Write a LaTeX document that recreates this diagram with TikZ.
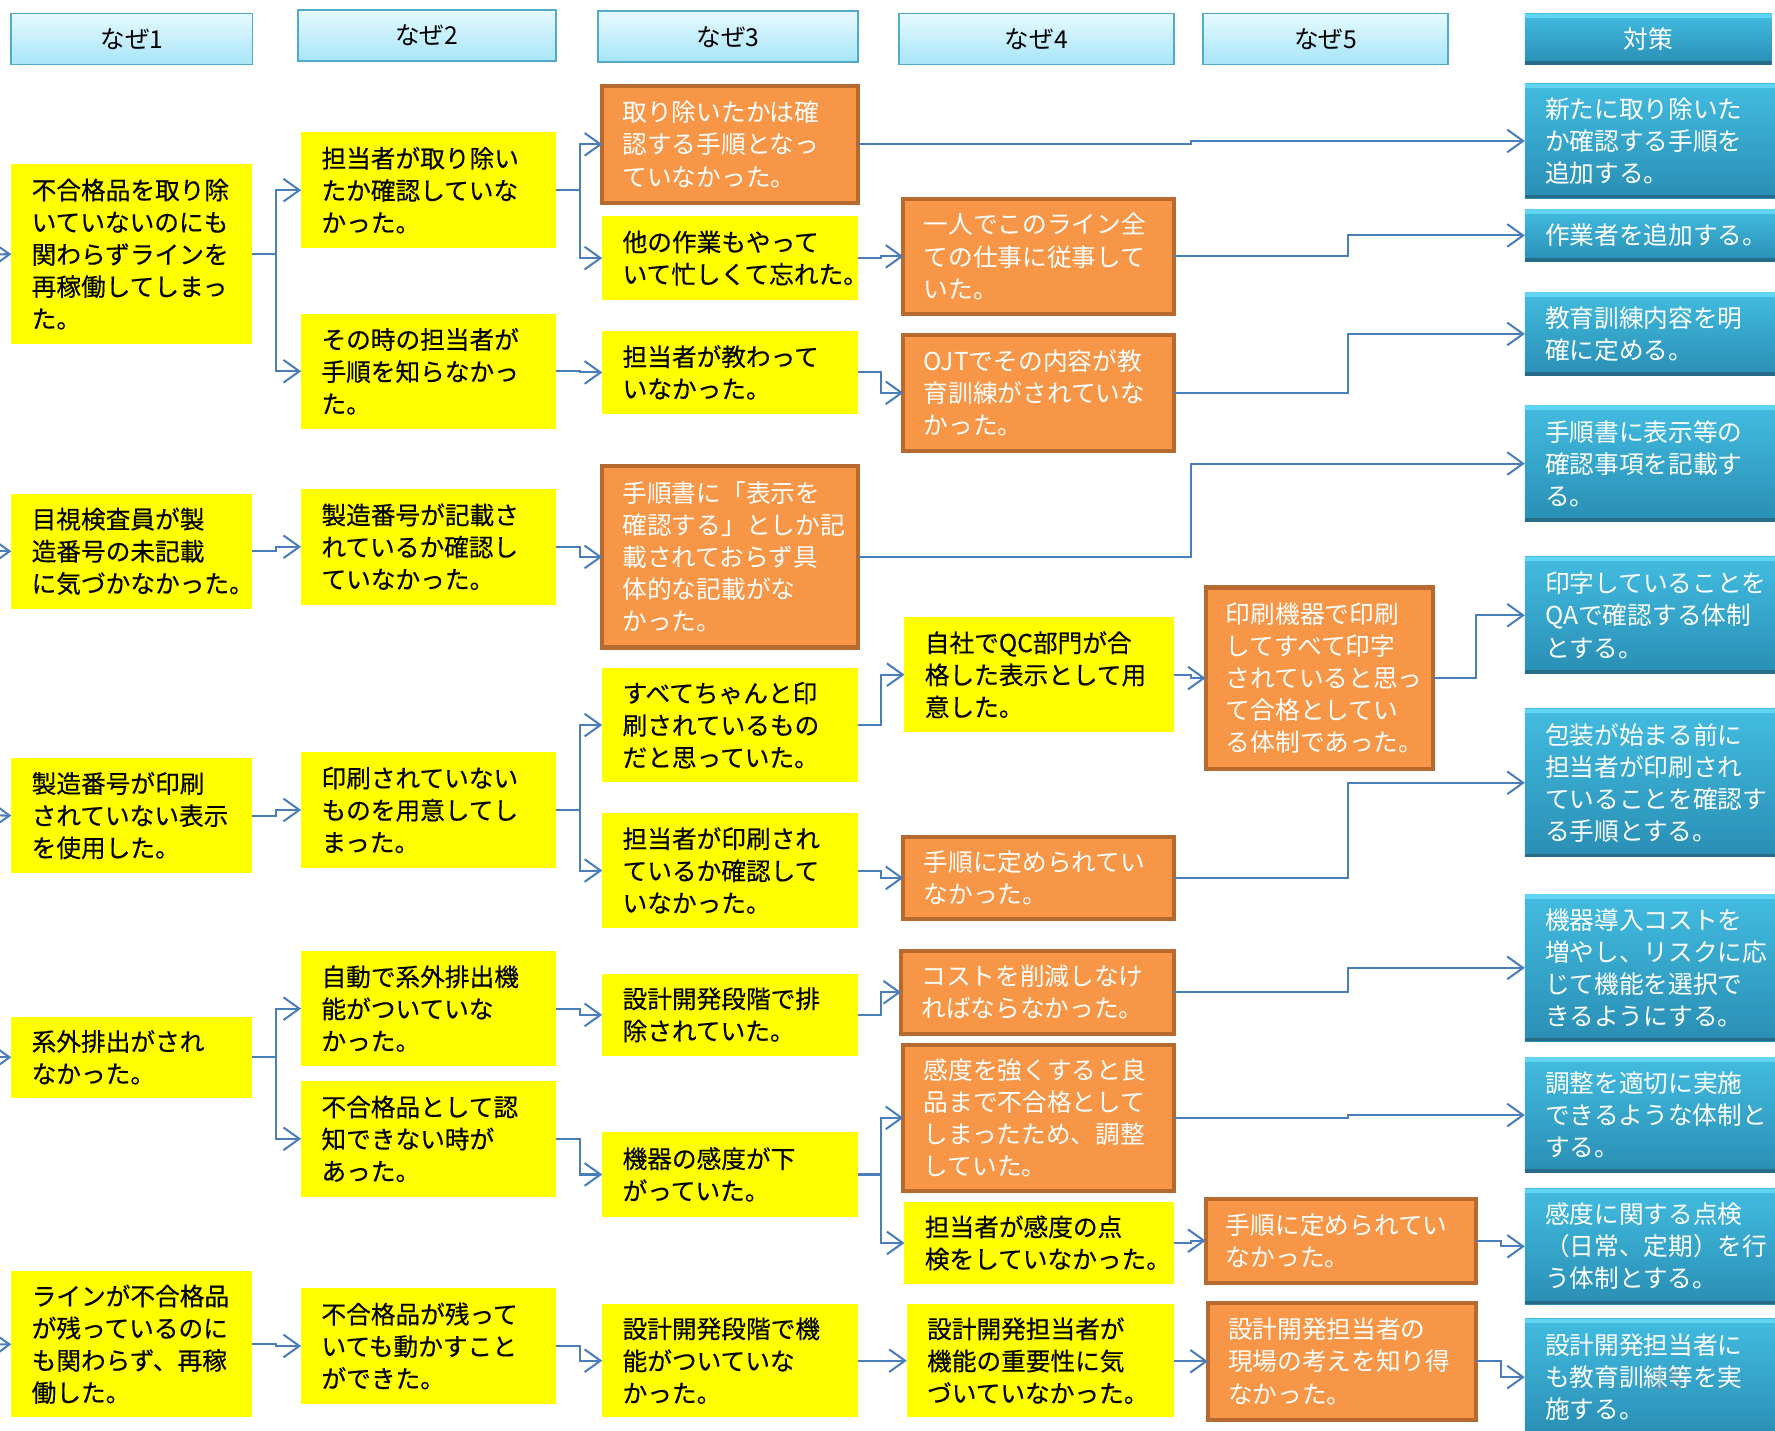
\documentclass[tikz,border=0pt]{standalone}
\usepackage{fontspec}
\setmainfont{Noto Sans CJK JP}
\newfontfamily\heavyjp[FakeBold=0.35]{Noto Sans CJK JP}
\usetikzlibrary{arrows.meta}
\definecolor{lineblue}{RGB}{74,126,187}
\definecolor{ofill}{RGB}{247,150,70}
\definecolor{odraw}{RGB}{182,106,48}
\definecolor{ylw}{RGB}{255,255,0}
\definecolor{ttop}{RGB}{66,188,224}
\definecolor{tbot}{RGB}{42,142,180}
\definecolor{tlight}{RGB}{96,212,240}
\definecolor{tdark}{RGB}{38,108,136}
\definecolor{htop}{RGB}{230,249,254}
\definecolor{hbot}{RGB}{166,229,248}
\definecolor{hdraw}{RGB}{80,170,200}
\newcommand\mybox[7]{%
  \pgfmathsetmacro\myBW{(#5-#3)*0.5}%
  \pgfmathsetmacro\myBH{(#6-#4)*0.5}%
  \pgfmathsetmacro\myTW{(#5-#3)*0.5-18}%
  \node[#2, minimum width=\myBW pt, minimum height=\myBH pt, text width=\myTW pt] (#1) at ({(#3+#5)/2},{(#4+#6)/2}) {#7};}
\tikzset{
  every node/.style={inner sep=0pt, outer sep=0pt, font=\fontsize{10.9}{14.2}\selectfont},
  ybox/.style={fill=ylw, align=left, text=black, font=\heavyjp\fontsize{10.9}{14.2}\selectfont},
  obox/.style={fill=ofill, draw=odraw, line width=1.8pt, align=left, text=white},
  bevel/.style={path picture={
      \fill[tlight] (path picture bounding box.north west) rectangle ([yshift=-2pt]path picture bounding box.north east);
      \fill[tdark] (path picture bounding box.south west) rectangle ([yshift=1.5pt]path picture bounding box.south east);}},
  tbox/.style={top color=ttop, bottom color=tbot, bevel, align=left, text=white},
  hbox/.style={top color=htop, bottom color=hbot, draw=hdraw, line width=0.8pt, align=center, text=black},
  thead/.style={top color=ttop, bottom color=tbot, bevel, align=center, text=white},
  cn/.style={draw=lineblue, line width=0.9pt, -{Straight Barb[length=7pt,width=10pt,line width=0.9pt]}},
}
\begin{document}
\begin{tikzpicture}[x=0.5pt, y=-0.5pt]
\useasboundingbox (0,0) rectangle (1568,1264);
\clip (0,0) rectangle (1568,1264);
\fill[white] (0,0) rectangle (1568,1264);
% headers
\mybox{h1}{hbox}{10}{12}{223}{57}{なぜ1}
\mybox{h2}{hbox}{263}{9}{491}{54}{なぜ2}
\mybox{h3}{hbox}{528}{10}{758}{55}{なぜ3}
\mybox{h4}{hbox}{794}{12}{1037}{57}{なぜ4}
\mybox{h5}{hbox}{1063}{12}{1279}{57}{なぜ5}
\mybox{h6}{thead}{1347}{12}{1565}{57}{対策}
% column 1
\mybox{A1}{ybox}{10}{145}{223}{304}{不合格品を取り除\\いていないのにも\\関わらずラインを\\再稼働してしまっ\\た。}
\mybox{B1}{ybox}{10}{436}{223}{538}{目視検査員が製\\造番号の未記載\\に気づかなかった。}
\mybox{C1}{ybox}{10}{670}{223}{771}{製造番号が印刷\\されていない表示\\を使用した。}
\mybox{D1}{ybox}{10}{898}{223}{970}{系外排出がされ\\なかった。}
\mybox{E1}{ybox}{10}{1123}{223}{1252}{ラインが不合格品\\が残っているのに\\も関わらず、再稼\\働した。}
% column 2
\mybox{A2a}{ybox}{266}{117}{491}{219}{担当者が取り除い\\たか確認していな\\かった。}
\mybox{A2b}{ybox}{266}{277}{491}{379}{その時の担当者が\\手順を知らなかっ\\た。}
\mybox{B2}{ybox}{266}{432}{491}{534}{製造番号が記載さ\\れているか確認し\\ていなかった。}
\mybox{C2}{ybox}{266}{664}{491}{767}{印刷されていない\\ものを用意してし\\まった。}
\mybox{D2a}{ybox}{266}{840}{491}{942}{自動で系外排出機\\能がついていな\\かった。}
\mybox{D2b}{ybox}{266}{955}{491}{1057}{不合格品として認\\知できない時が\\あった。}
\mybox{E2}{ybox}{266}{1138}{491}{1240}{不合格品が残って\\いても動かすこと\\ができた。}
% column 3
\mybox{A3a}{obox}{532}{76}{758}{179}{取り除いたかは確\\認する手順となっ\\ていなかった。}
\mybox{A3b}{ybox}{532}{191}{758}{265}{他の作業もやって\\いて忙しくて忘れた。}
\mybox{A3c}{ybox}{532}{292}{758}{366}{担当者が教わって\\いなかった。}
\mybox{B3}{obox}{532}{412}{758}{572}{手順書に「表示を\\確認する」としか記\\載されておらず具\\体的な記載がな\\かった。}
\mybox{C3a}{ybox}{532}{590}{758}{691}{すべてちゃんと印\\刷されているもの\\だと思っていた。}
\mybox{C3b}{ybox}{532}{718}{758}{820}{担当者が印刷され\\ているか確認して\\いなかった。}
\mybox{D3a}{ybox}{532}{860}{758}{933}{設計開発段階で排\\除されていた。}
\mybox{D3b}{ybox}{532}{1000}{758}{1075}{機器の感度が下\\がっていた。}
\mybox{E3}{ybox}{532}{1152}{758}{1252}{設計開発段階で機\\能がついていな\\かった。}
% column 4
\mybox{A4a}{obox}{798}{176}{1037}{277}{一人でこのライン全\\ての仕事に従事して\\いた。}
\mybox{A4b}{obox}{798}{296}{1037}{398}{OJTでその内容が教\\育訓練がされていな\\かった。}
\mybox{C4a}{ybox}{799}{545}{1037}{647}{自社でQC部門が合\\格した表示として用\\意した。}
\mybox{C4b}{obox}{798}{739}{1037}{812}{手順に定められてい\\なかった。}
\mybox{D4a}{obox}{796}{840}{1037}{913}{コストを削減しなけ\\ればならなかった。}
\mybox{D4b}{obox}{798}{923}{1037}{1052}{感度を強くすると良\\品まで不合格として\\しまったため、調整\\していた。}
\mybox{D4c}{ybox}{799}{1062}{1037}{1134}{担当者が感度の点\\検をしていなかった。}
\mybox{E4}{ybox}{801}{1152}{1037}{1252}{設計開発担当者が\\機能の重要性に気\\づいていなかった。}
% column 5
\mybox{C5}{obox}{1065}{519}{1266}{679}{印刷機器で印刷\\してすべて印字\\されていると思っ\\て合格としてい\\る体制であった。}
\mybox{D5}{obox}{1065}{1059}{1304}{1133}{手順に定められてい\\なかった。}
\mybox{E5}{obox}{1067}{1151}{1304}{1254}{設計開発担当者の\\現場の考えを知り得\\なかった。}
% countermeasures
\mybox{T1}{tbox}{1347}{74}{1572}{175}{新たに取り除いた\\か確認する手順を\\追加する。}
\mybox{T2}{tbox}{1347}{185}{1572}{231}{作業者を追加する。}
\mybox{T3}{tbox}{1347}{258}{1572}{332}{教育訓練内容を明\\確に定める。}
\mybox{T4}{tbox}{1347}{358}{1572}{461}{手順書に表示等の\\確認事項を記載す\\る。}
\mybox{T5}{tbox}{1347}{492}{1572}{595}{印字していることを\\QAで確認する体制\\とする。}
\mybox{T6}{tbox}{1347}{626}{1572}{757}{包装が始まる前に\\担当者が印刷され\\ていることを確認す\\る手順とする。}
\mybox{T7}{tbox}{1347}{790}{1572}{920}{機器導入コストを\\増やし、リスクに応\\じて機能を選択で\\きるようにする。}
\mybox{T8}{tbox}{1347}{934}{1572}{1036}{調整を適切に実施\\できるような体制と\\する。}
\mybox{T9}{tbox}{1347}{1050}{1572}{1152}{感度に関する点検\\（日常、定期）を行\\う体制とする。}
\mybox{T10}{tbox}{1347}{1165}{1572}{1268}{設計開発担当者に\\も教育訓練等を実\\施する。}
\node[text=gray, opacity=0.45, font=\fontsize{12}{14}\selectfont] (pg) at (1473,1219) {15};
% junction x positions
\coordinate (j12) at (244,0);
\coordinate (j23) at (512,0);
\coordinate (j34) at (778,0);
\coordinate (jL) at (1052,0);
\coordinate (j4T) at (1191,0);
\coordinate (j5a) at (1304,0);
\coordinate (j5b) at (1326,0);
% incoming arrows at left edge
\coordinate (sA) at (-20,225);
\coordinate (sB) at (-20,487);
\coordinate (sC) at (-20,720);
\coordinate (sD) at (-20,934);
\coordinate (sE) at (-20,1188);
\draw[cn] (sA) -- (A1.west);
\draw[cn] (sB) -- (B1.west);
\draw[cn] (sC) -- (C1.west);
\draw[cn] (sD) -- (D1.west);
\draw[cn] (sE) -- (E1.west);
% 1 -> 2
\draw[cn] (A1.east) -- (A1.east -| j12) |- (A2a.west);
\draw[cn] (A1.east) -- (A1.east -| j12) |- (A2b.west);
\draw[cn] (B1.east) -- (B1.east -| j12) |- (B2.west);
\draw[cn] (C1.east) -- (C1.east -| j12) |- (C2.west);
\draw[cn] (D1.east) -- (D1.east -| j12) |- (D2a.west);
\draw[cn] (D1.east) -- (D1.east -| j12) |- (D2b.west);
\draw[cn] (E1.east) -- (E1.east -| j12) |- (E2.west);
% 2 -> 3
\draw[cn] (A2a.east) -- (A2a.east -| j23) |- (A3a.west);
\draw[cn] (A2a.east) -- (A2a.east -| j23) |- (A3b.west);
\draw[cn] (A2b.east) -- (A2b.east -| j23) |- (A3c.west);
\draw[cn] (B2.east) -- (B2.east -| j23) |- (B3.west);
\draw[cn] (C2.east) -- (C2.east -| j23) |- (C3a.west);
\draw[cn] (C2.east) -- (C2.east -| j23) |- (C3b.west);
\draw[cn] (D2a.east) -- (D2a.east -| j23) |- (D3a.west);
\draw[cn] (D2b.east) -- (D2b.east -| j23) |- (D3b.west);
\draw[cn] (E2.east) -- (E2.east -| j23) |- (E3.west);
% 3 -> 4 / T
\draw[cn] (A3a.east) -- (A3a.east -| jL) |- (T1.west);
\draw[cn] (A3b.east) -- (A3b.east -| j34) |- (A4a.west);
\draw[cn] (A3c.east) -- (A3c.east -| j34) |- (A4b.west);
\draw[cn] (B3.east) -- (B3.east -| jL) |- (T4.west);
\draw[cn] (C3a.east) -- (C3a.east -| j34) |- (C4a.west);
\draw[cn] (C3b.east) -- (C3b.east -| j34) |- (C4b.west);
\draw[cn] (D3a.east) -- (D3a.east -| j34) |- (D4a.west);
\draw[cn] (D3b.east) -- (D3b.east -| j34) |- (D4b.west);
\draw[cn] (D3b.east) -- (D3b.east -| j34) |- (D4c.west);
\draw[cn] (E3.east) -- (E3.east -| j34) |- (E4.west);
% 4 -> 5 / T
\draw[cn] (A4a.east) -- (A4a.east -| j4T) |- (T2.west);
\draw[cn] (A4b.east) -- (A4b.east -| j4T) |- (T3.west);
\draw[cn] (C4a.east) -- (C4a.east -| jL) |- (C5.west);
\draw[cn] (C4b.east) -- (C4b.east -| j4T) |- (T6.west);
\draw[cn] (D4a.east) -- (D4a.east -| j4T) |- (T7.west);
\draw[cn] (D4b.east) -- (D4b.east -| j4T) |- (T8.west);
\draw[cn] (D4c.east) -- (D4c.east -| jL) |- (D5.west);
\draw[cn] (E4.east) -- (E4.east -| jL) |- (E5.west);
% 5 -> T
\draw[cn] (C5.east) -- (C5.east -| j5a) |- (T5.west);
\draw[cn] (D5.east) -- (D5.east -| j5b) |- (T9.west);
\draw[cn] (E5.east) -- (E5.east -| j5b) |- (T10.west);
\end{tikzpicture}
\end{document}
